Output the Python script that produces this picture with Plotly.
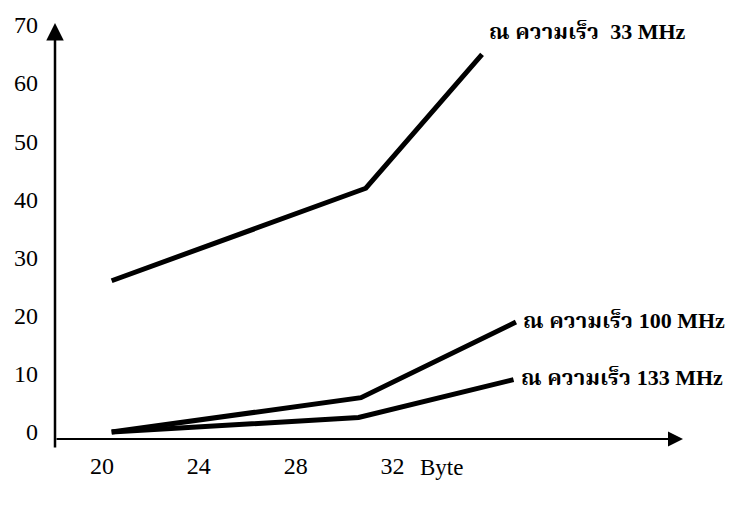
import plotly.graph_objects as go

# Values (x in Byte, y as on the printed axis)
x_33 = [20.4, 30.9, 35.7]
y_33 = [26.0, 41.9, 64.9]
x_100 = [20.4, 30.7, 37.1]
y_100 = [0.0, 5.9, 18.9]
x_133 = [20.4, 30.6, 37.0]
y_133 = [0.0, 2.5, 9.0]

label_thai = "ณ ความเร็ว"
label_speed = ["&nbsp;33 MHz", "100 MHz", "133 MHz"]
label_yshift = [21, 0, 0]

x_ticks = [20, 24, 28, 32]
y_ticks = [0, 10, 20, 30, 40, 50, 60, 70]
x_title = "Byte"

serif = "Liberation Serif, Times New Roman, serif"
thai = "Noto Serif Thai, Noto Sans Thai, Loma, Garuda, DejaVu Sans, sans-serif"

fig = go.Figure()
series = [(x_33, y_33), (x_100, y_100), (x_133, y_133)]
for (xs, ys), sp in zip(series, label_speed):
    fig.add_trace(go.Scatter(x=xs, y=ys, mode="lines", name=label_thai + " " + sp,
                             line=dict(color="black", width=5),
                             showlegend=False, hoverinfo="skip"))

for (xs, ys), sp, dy in zip(series, label_speed, label_yshift):
    txt = (f"<b>{label_thai} </b><b><span style='font-family:{serif}'>{sp}</span></b>")
    fig.add_annotation(x=xs[-1], y=ys[-1], xref="x", yref="y", text=txt,
                       showarrow=False, xanchor="left", yanchor="middle",
                       xshift=5, yshift=dy,
                       font=dict(family=thai, size=22, color="black"))

# axis arrows
fig.add_annotation(x=0, y=1, xref="paper", yref="paper", ax=0, ay=426,
                   axref="pixel", ayref="pixel", showarrow=True, text="",
                   arrowhead=2, arrowsize=1.4, arrowwidth=2.5, arrowcolor="black")
fig.add_annotation(x=1, y=0, xref="paper", yref="paper", ax=-628, ay=0,
                   axref="pixel", ayref="pixel", showarrow=True, text="",
                   arrowhead=2, arrowsize=1.5, arrowwidth=2, arrowcolor="black")

fig.add_annotation(x=33.07, y=0, xref="x", yref="paper", text=x_title,
                   showarrow=False, xanchor="left", yanchor="top", yshift=-14,
                   font=dict(family=serif, size=23, color="black"))

fig.update_layout(
    width=729, height=505,
    margin=dict(l=55, r=46, t=20, b=66),
    paper_bgcolor="white", plot_bgcolor="white",
    xaxis=dict(range=[18.06, 44.0], tickvals=x_ticks, ticktext=[str(v) for v in x_ticks],
               showgrid=False, zeroline=False, showline=False, ticks="",
               ticklabelstandoff=10,
               tickfont=dict(family=serif, size=24, color="black")),
    yaxis=dict(range=[-1.2, 70.3], tickvals=y_ticks, ticktext=[str(v) for v in y_ticks],
               showgrid=False, zeroline=False, showline=False, ticks="",
               ticklabelstandoff=16,
               tickfont=dict(family=serif, size=24, color="black")),
)

fig.write_html("out.html", config={"displayModeBar": False},
               post_script="document.body.style.margin='0px';document.body.style.padding='0px';")
